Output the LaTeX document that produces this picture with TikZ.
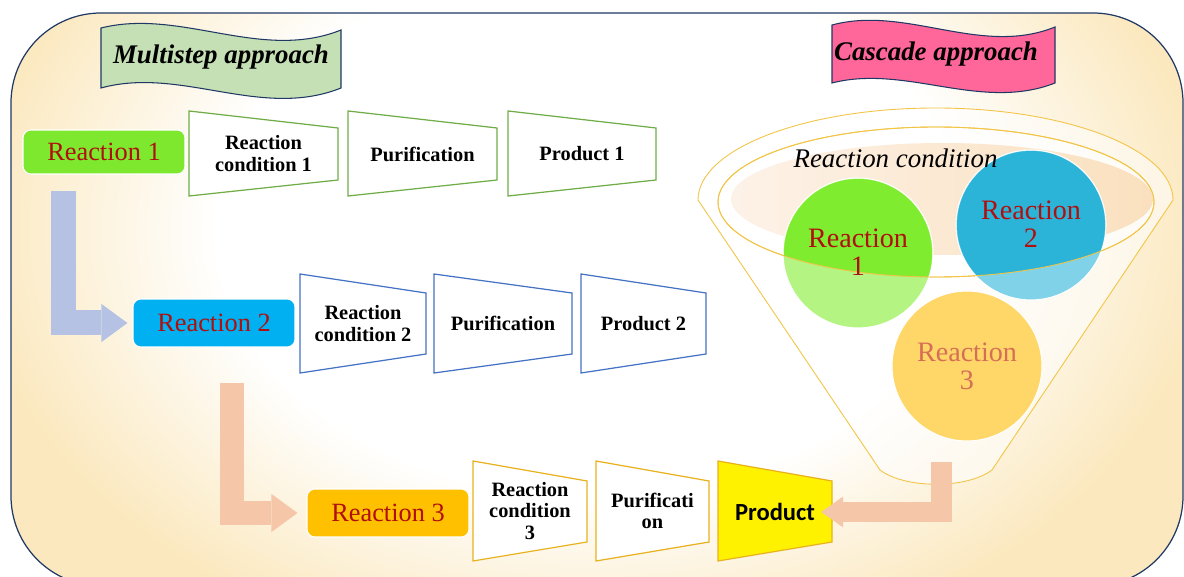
\documentclass[tikz,border=0pt]{standalone}
\usepackage{fontspec}
\setmainfont{Liberation Serif}
\newfontfamily\prodfont{Carlito}
\usetikzlibrary{arrows.meta}

\definecolor{bgyellow}{RGB}{251,232,190}
\definecolor{framecol}{RGB}{32,56,100}
\definecolor{redtext}{RGB}{175,15,15}
\definecolor{salmontext}{RGB}{214,110,86}
\definecolor{stepgreen}{RGB}{112,173,71}
\definecolor{stepblue}{RGB}{68,114,196}
\definecolor{stepgold}{RGB}{232,178,30}
\definecolor{rimgold}{RGB}{242,196,70}
\definecolor{boxgreen}{RGB}{125,232,45}
\definecolor{boxblue}{RGB}{0,176,240}
\definecolor{boxorange}{RGB}{255,192,0}
\definecolor{bannergreen}{RGB}{197,224,180}
\definecolor{bannerpink}{RGB}{255,102,153}
\definecolor{arrowblue}{RGB}{182,194,228}
\definecolor{arrowpeach}{RGB}{245,198,168}
\definecolor{ballgreen}{RGB}{128,236,48}
\definecolor{ballgreenlight}{RGB}{180,244,130}
\definecolor{ballblue}{RGB}{44,180,216}
\definecolor{ballbluelight}{RGB}{128,210,232}
\definecolor{ballorange}{RGB}{255,215,105}
\definecolor{peachlight}{RGB}{253,242,232}
\definecolor{peachdark}{RGB}{250,224,190}

\pgfdeclareradialshading{glow}{\pgfpoint{0bp}{0bp}}{color(0bp)=(white); color(15bp)=(white); color(25bp)=(bgyellow); color(50bp)=(bgyellow)}

\tikzstyle{banner} = [draw=framecol, line width=0.6pt]
\tikzstyle{bannertext} = [font=\bfseries\itshape\fontsize{15.3}{18}\selectfont]
\tikzstyle{reaction} = [rectangle, rounded corners=4.5pt, draw=white, line width=0.6pt, minimum width=3.24cm, minimum height=0.96cm, text=redtext, font=\fontsize{15}{18}\selectfont]
\tikzstyle{stagebox} = [line width=0.7pt, fill=white]
\tikzstyle{stagetext} = [align=center, font=\bfseries\fontsize{11.6}{12}\selectfont]
\tikzstyle{rim} = [draw=rimgold, line width=0.5pt]
\tikzstyle{ball} = [circle, draw=white, line width=0.6pt, minimum size=3cm]
\tikzstyle{balltext} = [align=center, font=\fontsize{16}{15.9}\selectfont]
\tikzstyle{bentarrow} = [line width=0.5cm, line join=miter, -{Triangle[length=0.52cm, width=0.76cm, line width=0pt]}]

\begin{document}
\begin{tikzpicture}[x=0.02cm, y=-0.02cm]
	\useasboundingbox (0,0) rectangle (1184,577);
	\clip (0,0) rectangle (1184,577);

	\begin{scope}
		\clip[rounded corners=1.8cm] (11,13) rectangle (1183,586);
		\fill[bgyellow] (0,0) rectangle (1184,600);
		\shade[shading=glow] (590,230) ellipse [x radius=620, y radius=440];
	\end{scope}
	\draw[framecol, line width=0.7pt, rounded corners=1.8cm] (11,13) rectangle (1183,586);

	\draw[banner, fill=bannergreen] (101,28) .. controls (181,8) and (261,62) .. (341,30) -- (341,88) .. controls (261,120) and (181,66) .. (101,88) -- cycle;
	\node[bannertext] (multi) at (221,57) {Multistep approach};
	\draw[banner, fill=bannerpink] (832,25) .. controls (906,5) and (981,57) .. (1055,27) -- (1055,83) .. controls (981,112) and (906,64) .. (832,83) -- cycle;
	\node[bannertext] (casc) at (936,54) {Cascade approach};

	\node[reaction, fill=boxgreen, minimum height=0.88cm] (r1) at (104,152) {Reaction 1};
	\node[reaction, fill=boxblue] (r2) at (214,323) {Reaction 2};
	\node[reaction, fill=boxorange] (r3) at (388,513) {Reaction 3};

	\draw[stagebox, draw=stepgreen] (189,111) -- (338,128) -- (338,180) -- (189,196) -- cycle;
	\draw[stagebox, draw=stepgreen] (348,111) -- (497,128) -- (497,180) -- (348,196) -- cycle;
	\draw[stagebox, draw=stepgreen] (508,111) -- (656,128) -- (656,180) -- (508,196) -- cycle;
	\node[stagetext] (c1) at (263.5,153.5) {Reaction\\condition 1};
	\node[stagetext] (p1) at (422.5,154) {Purification};
	\node[stagetext] (d1) at (582,154) {Product 1};

	\draw[stagebox, draw=stepblue] (300,274) -- (426,293) -- (426,354) -- (300,373) -- cycle;
	\draw[stagebox, draw=stepblue] (434,274) -- (572,293) -- (572,354) -- (434,373) -- cycle;
	\draw[stagebox, draw=stepblue] (581,274) -- (706,293) -- (706,354) -- (581,373) -- cycle;
	\node[stagetext] (c2) at (363,323.5) {Reaction\\condition 2};
	\node[stagetext] (p2) at (503,323.5) {Purification};
	\node[stagetext] (d2) at (643.5,323.5) {Product 2};

	\draw[stagebox, draw=stepgold] (473,461) -- (587,481) -- (587,542) -- (473,561) -- cycle;
	\draw[stagebox, draw=stepgold] (596,461) -- (709,481) -- (709,542) -- (596,561) -- cycle;
	\draw[stagebox, draw=stepgold, fill=yellow] (718,461) -- (832,481) -- (832,542) -- (718,561) -- cycle;
	\node[stagetext] (c3) at (530,511) {Reaction\\condition\\3};
	\node[stagetext] (p3) at (652.5,511) {Purificati\\on};
	\node[font=\prodfont\bfseries\fontsize{14}{16}\selectfont] (prod) at (775,512) {Product};

	\draw[rim, fill=white, fill opacity=.55] (698,200) arc [start angle=180, end angle=360, x radius=237.5, y radius=92] -- (992,470) .. controls (967,489) and (905,489) .. (880,470) -- cycle;
	\draw[rim, fill=white, fill opacity=.6] (936,202) ellipse [x radius=218, y radius=75];
	\shade[left color=peachlight, right color=peachdark] (942,199) ellipse [x radius=211, y radius=56];

	\node[ball, fill=ballgreenlight] (k1) at (858,253) {};
	\node[ball, fill=ballbluelight] (k2) at (1031,225) {};
	\node[ball, fill=ballorange] (k3) at (967,366) {};
	\begin{scope}
		\clip (936,202) ellipse [x radius=218, y radius=75];
		\fill[ballgreen] (k1) circle [radius=74];
		\fill[ballblue] (k2) circle [radius=74];
	\end{scope}
	\draw[rim] (936,202) ellipse [x radius=218, y radius=75];

	\node[balltext, text=redtext] (t1) at (858,252) {Reaction\\1};
	\node[balltext, text=redtext] (t2) at (1031,224) {Reaction\\2};
	\node[balltext, text=salmontext] (t3) at (967,366) {Reaction\\3};
	\node[font=\itshape\fontsize{15.3}{18}\selectfont] (cond) at (895.5,158) {Reaction condition};

	\coordinate (a1) at (63.5,191);
	\coordinate (a2) at (232,383);
	\coordinate (a3) at (941.5,462);
	\draw[bentarrow, arrowblue, shorten >=0.1cm] (a1) |- (r2);
	\draw[bentarrow, arrowpeach, shorten >=0.18cm] (a2) |- (r3);
	\draw[bentarrow, arrowpeach, line width=0.42cm, -{Triangle[length=0.44cm, width=0.62cm, line width=0pt]}] (a3) |- (prod);
\end{tikzpicture}
\end{document}
